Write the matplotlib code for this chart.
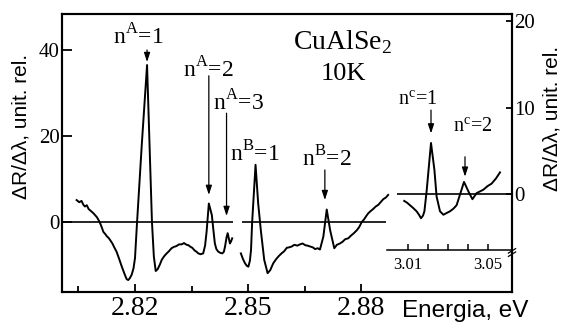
import matplotlib
matplotlib.use("Agg")
import matplotlib.pyplot as plt

plt.rcParams['font.family'] = 'Liberation Serif'
plt.rcParams['mathtext.fontset'] = 'custom'
plt.rcParams['mathtext.rm'] = 'Liberation Serif'

# A exciton series (n=1..3), first scan
energy_a = [2.8045, 2.8052, 2.8058, 2.8063, 2.8067, 2.8072, 2.8077, 2.8081, 2.8085, 2.8090,
            2.8095, 2.8099, 2.8103, 2.8108, 2.8112, 2.8116, 2.8121, 2.8126, 2.8130, 2.8134,
            2.8140, 2.8145, 2.8151, 2.8158, 2.8165, 2.8171, 2.8175, 2.8178, 2.8182, 2.8186,
            2.8191, 2.8196, 2.8200, 2.8205, 2.8218, 2.8232, 2.8240, 2.8245, 2.8250, 2.8255,
            2.8260, 2.8266, 2.8271, 2.8277, 2.8283, 2.8290, 2.8297, 2.8303, 2.8310, 2.8317,
            2.8324, 2.8330, 2.8337, 2.8342, 2.8346, 2.8352, 2.8358, 2.8363, 2.8368, 2.8374,
            2.8381, 2.8386, 2.8390, 2.8396, 2.8404, 2.8408, 2.8412, 2.8416, 2.8421, 2.8427,
            2.8432, 2.8436, 2.8439, 2.8443, 2.8446, 2.8449, 2.8452, 2.8455, 2.8458]
signal_a = [5.1, 4.6, 4.9, 4.0, 3.6, 3.9, 3.0, 2.7, 2.4, 2.0,
            1.5, 1.1, 0.5, -0.4, -1.3, -2.3, -2.8, -3.4, -3.7, -4.2,
            -5.0, -5.9, -6.9, -8.6, -10.4, -11.8, -12.7, -13.3, -13.5, -13.1,
            -12.3, -10.8, -8.4, -0.7, 18.0, 36.5, 14.0, 0.0, -8.0, -11.4,
            -11.0, -9.9, -8.8, -8.0, -7.4, -6.8, -6.1, -5.8, -5.6, -5.2,
            -5.2, -4.9, -5.3, -5.4, -5.7, -6.0, -6.6, -6.9, -7.3, -7.5,
            -7.3, -5.5, -2.3, 4.3, 1.6, -1.8, -5.0, -6.3, -6.9, -7.2,
            -7.3, -6.9, -5.7, -3.6, -2.6, -3.8, -5.0, -4.5, -3.8]

# B exciton series (n=1, 2)
energy_b = [2.8481, 2.8487, 2.8492, 2.8497, 2.8501, 2.8505, 2.8508, 2.8511, 2.8520, 2.8527,
            2.8534, 2.8543, 2.8552, 2.8559, 2.8567, 2.8575, 2.8582, 2.8589, 2.8596, 2.8603,
            2.8609, 2.8616, 2.8623, 2.8631, 2.8638, 2.8645, 2.8652, 2.8658, 2.8665, 2.8672,
            2.8678, 2.8685, 2.8691, 2.8700, 2.8709, 2.8718, 2.8729, 2.8736, 2.8744, 2.8751,
            2.8758, 2.8766, 2.8773, 2.8781, 2.8789, 2.8795, 2.8802, 2.8808, 2.8814, 2.8819,
            2.8825, 2.8832, 2.8839, 2.8846, 2.8852, 2.8859, 2.8866, 2.8872]
signal_b = [-7.3, -8.7, -9.6, -10.2, -10.4, -9.0, -6.5, 0.0, 13.3, 4.3,
            -1.9, -8.8, -11.9, -11.2, -9.6, -8.6, -7.9, -7.3, -6.8, -6.0,
            -5.9, -5.7, -5.3, -5.5, -5.2, -5.0, -5.4, -5.5, -5.7, -5.9,
            -6.3, -6.1, -6.4, -3.4, 2.9, -1.9, -6.1, -5.3, -5.0, -4.6,
            -4.0, -3.8, -3.2, -2.6, -1.9, -1.2, 0.0, 0.6, 1.4, 2.0,
            2.5, 3.0, 3.6, 4.0, 4.6, 5.3, 5.7, 6.3]

# C exciton series (right axis)
energy_c = [3.0081, 3.0095, 3.0110, 3.0125, 3.0143, 3.0155, 3.0165, 3.0175, 3.0182, 3.0193,
            3.0215, 3.0232, 3.0243, 3.0260, 3.0277, 3.0293, 3.0310, 3.0327, 3.0343, 3.0365,
            3.0380, 3.0402, 3.0422, 3.0443, 3.0460, 3.0477, 3.0497, 3.0518, 3.0540, 3.0560]
signal_c = [-0.8, -1.0, -1.3, -1.6, -2.0, -2.4, -2.8, -2.5, -2.0, 0.3,
            5.9, 2.8, -0.3, -2.0, -2.4, -2.2, -2.0, -1.7, -1.3, 0.3,
            1.4, 0.3, -0.6, 0.1, 0.3, 0.5, 0.9, 1.2, 1.8, 2.5]

# peak markers: label, label anchor, arrow (x, from, to)
labels_ab = ['n$^{\\mathrm{A}}$=1', 'n$^{\\mathrm{A}}$=2', 'n$^{\\mathrm{A}}$=3',
             'n$^{\\mathrm{B}}$=1', 'n$^{\\mathrm{B}}$=2']
label_x_ab = [2.8142, 2.8327, 2.8407, 2.8452, 2.8643]
label_y_ab = [41.2, 33.7, 26.0, 14.0, 12.8]
arrow_x_ab = [2.8232, 2.8396, 2.8443, 2.8704]
arrow_from_ab = [40.0, 34.0, 25.3, 12.1]
arrow_to_ab = [37.2, 6.3, 1.4, 5.1]

labels_c = ['n$^{\\mathrm{c}}$=1', 'n$^{\\mathrm{c}}$=2']
label_x_c = [3.0050, 3.0325]
label_y_c = [10.3, 7.2]
arrow_x_c = [3.0215, 3.0385]
arrow_from_c = [9.7, 4.3]
arrow_to_c = [7.0, 2.0]

fig = plt.figure(figsize=(5.61, 3.23), dpi=100)
ax = fig.add_axes([62 / 561, 31 / 323, 450 / 561, 278 / 323])
ax2 = ax.twinx()
ax3 = ax2.twiny()

lw = 1.4
arrow_kw = dict(arrowstyle='-|>,head_length=0.55,head_width=0.18', color='k',
                lw=0.9, shrinkA=0, shrinkB=0)

# main A/B spectrum
ax.plot(energy_a, signal_a, color='k', lw=lw)
ax.plot(energy_b, signal_b, color='k', lw=lw)
ax.hlines(0, 2.8006, 2.8461, color='k', lw=1.2)
ax.hlines(0, 2.8485, 2.8867, color='k', lw=1.2)
ax.set_xlim(2.80062, 2.92008)
ax.set_ylim(-16.28, 48.37)
ax.set_xticks([2.82, 2.85, 2.88])
ax.set_xticklabels(['2.82', '2.85', '2.88'])
ax.set_xticks([2.805, 2.835, 2.865], minor=True)
ax.set_yticks([0, 20, 40])
ax.tick_params(axis='x', which='major', direction='in', length=6, width=1.3,
               labelsize=20, pad=3)
ax.tick_params(axis='x', which='minor', direction='in', length=4, width=1.3)
ax.tick_params(axis='y', direction='in', length=7, width=1.3, labelsize=15, pad=1.5)
for s in ax.spines.values():
    s.set_linewidth(1.5)

for txt, x, y in zip(labels_ab, label_x_ab, label_y_ab):
    ax.text(x, y, txt, fontsize=17, ha='left', va='baseline')
for x, y0, y1 in zip(arrow_x_ab, arrow_from_ab, arrow_to_ab):
    ax.annotate('', xy=(x, y1), xytext=(x, y0), arrowprops=arrow_kw)

ax.text(2.8752, 40.2, 'CuAlSe$_2$', fontsize=20, ha='center', va='baseline')
ax.text(2.8752, 33.0, '10K', fontsize=19, ha='center', va='baseline')

# right axis
ax2.set_ylim(-11.33, 20.81)
ax2.set_yticks([0, 10, 20])
ax2.tick_params(axis='y', direction='in', length=4, width=1.3, labelsize=15, pad=1.5)
for s in ax2.spines.values():
    s.set_linewidth(1.5)

# C series on its own energy scale
ax3.plot(energy_c, signal_c, color='k', lw=lw)
ax3.hlines(0, 3.0043, 3.062, color='k', lw=1.2)
ax3.set_xlim(2.837, 3.062)
ax3.xaxis.tick_bottom()
ax3.spines['top'].set_visible(False)
ax3.spines['left'].set_visible(False)
ax3.spines['right'].set_visible(False)
ax3.spines['bottom'].set_visible(True)
ax3.spines['bottom'].set_position(('data', -6.47))
ax3.spines['bottom'].set_bounds(2.9995, 3.062)
ax3.spines['bottom'].set_linewidth(1.1)
ax3.set_xticks([3.01, 3.02, 3.03, 3.04, 3.05])
ax3.set_xticklabels(['3.01', '', '', '', '3.05'])
ax3.tick_params(axis='x', direction='in', length=4, width=1.1, labelsize=12, pad=5)

for txt, x, y in zip(labels_c, label_x_c, label_y_c):
    ax3.text(x, y, txt, fontsize=14.5, ha='left', va='baseline')
for x, y0, y1 in zip(arrow_x_c, arrow_from_c, arrow_to_c):
    ax3.annotate('', xy=(x, y1), xytext=(x, y0), arrowprops=arrow_kw)

# axis break on the inset energy scale
for dy in (-0.012, 0.0):
    ax3.plot([0.992, 1.008], [0.140 + dy, 0.156 + dy], transform=ax3.transAxes,
             color='k', lw=0.9, clip_on=False)

ylab = 'ΔR/Δλ, unit. rel.'
fig.text(21 / 561, 1 - 126 / 323, ylab, rotation=90, ha='center', va='center',
         fontsize=15, family='Liberation Sans')
fig.text(552 / 561, 1 - 118 / 323, ylab, rotation=90, ha='center', va='center',
         fontsize=15, family='Liberation Sans')
fig.text(402 / 561, 6 / 323, 'Energia, eV', ha='left', va='baseline',
         fontsize=17.5, family='Liberation Sans')

fig.savefig('out.png', dpi=100)
